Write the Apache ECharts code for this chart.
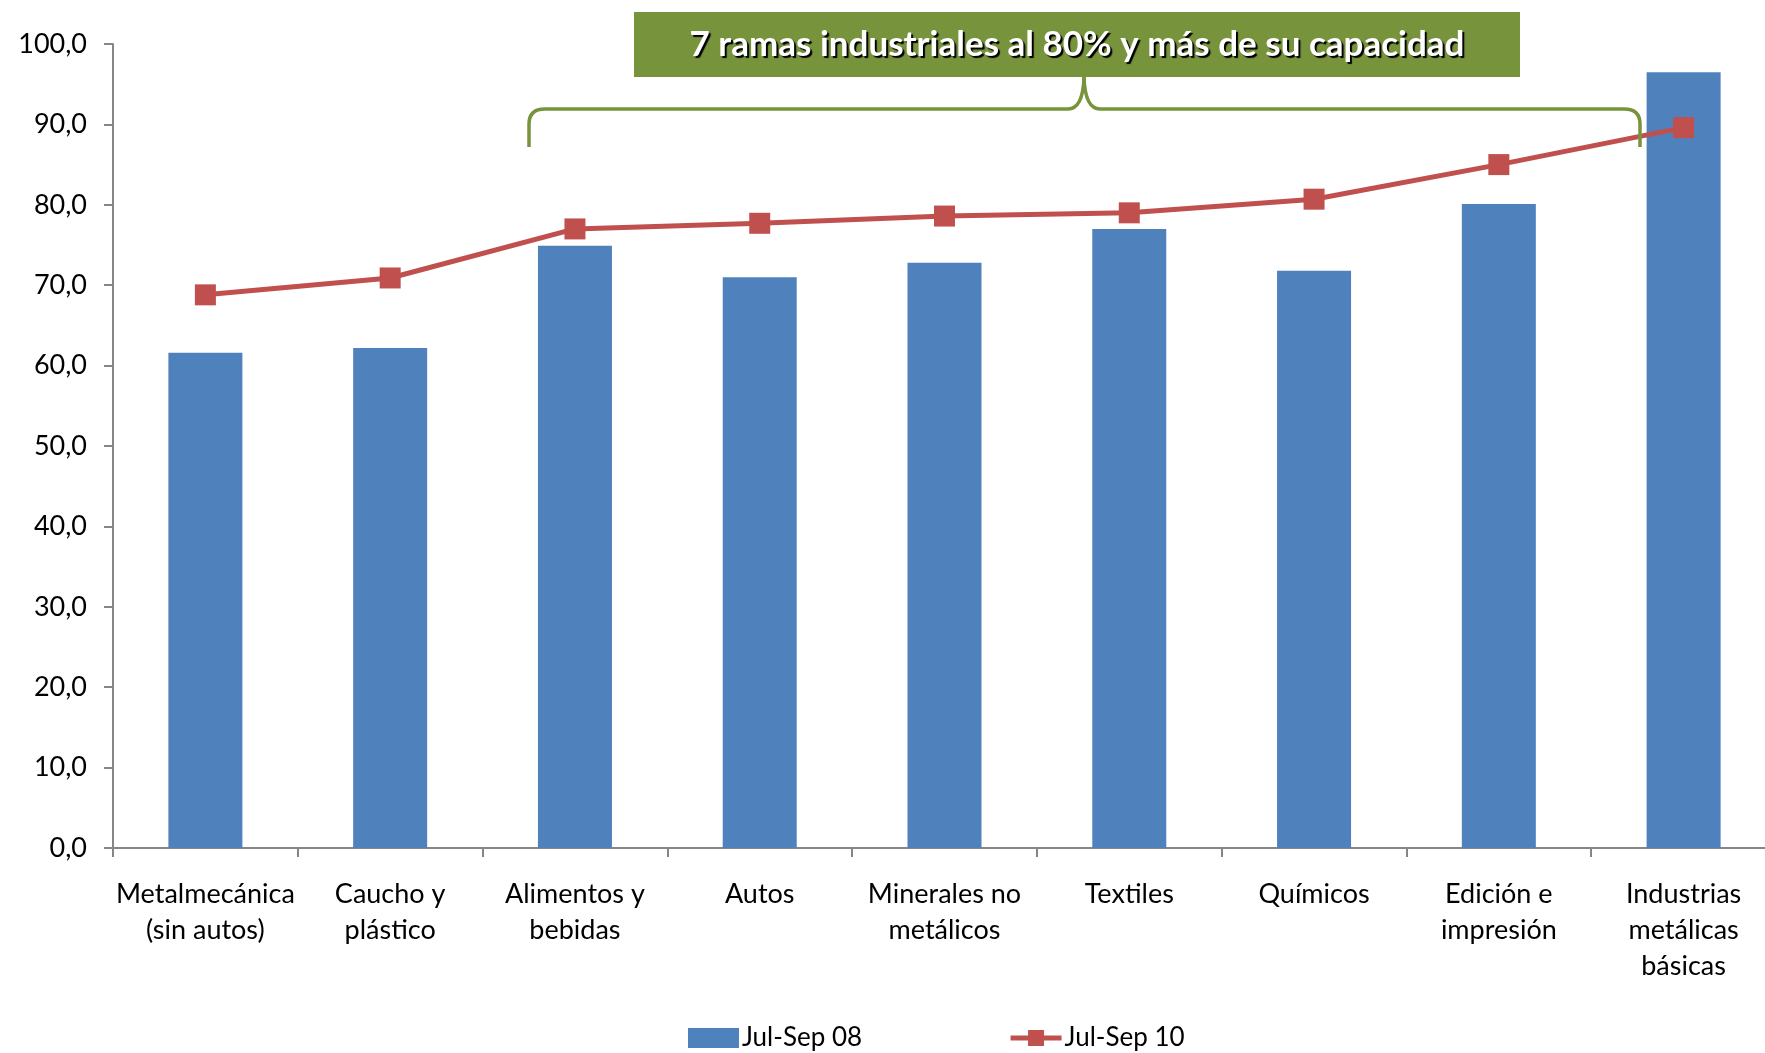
<!DOCTYPE html>
<html><head><meta charset="utf-8">
<script src="https://cdn.jsdelivr.net/npm/echarts@6/dist/echarts.min.js"></script>
<style>html,body{margin:0;padding:0;background:#fff;overflow:hidden;width:1765px;height:1053px}#c{width:1776px;height:1053px}</style>
</head><body><div id="c"></div>
<script>
const categories = ['Metalmecánica\n(sin autos)','Caucho y\nplástico','Alimentos y\nbebidas','Autos','Minerales no\nmetálicos','Textiles','Químicos','Edición e\nimpresión','Industrias\nmetálicas\nbásicas'];
const seriesNames = ['Jul-Sep 08','Jul-Sep 10'];
const julSep08 = [61.6, 62.2, 74.9, 71.0, 72.8, 77.0, 71.8, 80.1, 96.5];
const julSep10 = [68.8, 70.9, 77.0, 77.7, 78.6, 79.0, 80.7, 85.0, 89.6];
const annotationText = '7 ramas industriales al 80% y más de su capacidad';

const FONT = 'Lato';
const G = '#77933C';
const RED = '#C0504D';
const braceStyle = {stroke:G, lineWidth:3.5, fill:'none'};
const chart = echarts.init(document.getElementById('c'), null, {renderer:'canvas'});
chart.setOption({
  animation:false,
  backgroundColor:'#ffffff',
  textStyle:{fontFamily:FONT},
  grid:{left:113, top:44, right:0, bottom:205, containLabel:false},
  legend:{
    bottom:-3, left:683, itemGap:146, itemWidth:51, itemHeight:20,
    textStyle:{fontFamily:FONT, fontSize:26, color:'#000', padding:[0,0,0,-2]},
    data:[{name:seriesNames[0], icon:'rect'},
          {name:seriesNames[1], lineStyle:{width:5, color:RED}}]
  },
  xAxis:{
    type:'category', data:categories,
    axisLine:{lineStyle:{color:'#868686', width:2}},
    axisTick:{show:true, length:9, lineStyle:{color:'#868686', width:2}},
    axisLabel:{fontFamily:FONT, fontSize:27, color:'#000', lineHeight:36, margin:28, interval:0}
  },
  yAxis:{
    type:'value', min:0, max:100, interval:10,
    axisLine:{show:true, lineStyle:{color:'#868686', width:2}},
    axisTick:{show:true, length:9, lineStyle:{color:'#868686', width:2}},
    splitLine:{show:false},
    axisLabel:{fontFamily:FONT, fontSize:27, color:'#000', margin:26,
      formatter:v=>v.toFixed(1).replace('.',',')}
  },
  series:[
    {name:seriesNames[0], type:'bar', data:julSep08, barWidth:74, itemStyle:{color:'#4F81BD'}, z:2},
    {name:seriesNames[1], type:'line', data:julSep10, symbol:'rect', symbolSize:21,
     lineStyle:{color:RED, width:5}, itemStyle:{color:RED}, z:3}
  ],
  graphic:[
    {type:'rect', z:100, shape:{x:634, y:12, width:886, height:65}, style:{fill:G}},
    {type:'text', z:101, x:1077, y:45, style:{text:annotationText, fill:'#fff', font:'bold 35px '+FONT,
      align:'center', verticalAlign:'middle', textShadowColor:'#000', textShadowOffsetX:2, textShadowOffsetY:2, textShadowBlur:1}},
    {type:'line', z:100, shape:{x1:529, y1:147, x2:529, y2:124}, style:braceStyle},
    {type:'bezierCurve', z:100, shape:{x1:529, y1:124, cpx1:529, cpy1:109, x2:545, y2:109}, style:braceStyle},
    {type:'line', z:100, shape:{x1:545, y1:109, x2:1068, y2:109}, style:braceStyle},
    {type:'bezierCurve', z:100, shape:{x1:1068, y1:109, cpx1:1083, cpy1:109, x2:1084, y2:77}, style:braceStyle},
    {type:'bezierCurve', z:100, shape:{x1:1084, y1:77, cpx1:1085, cpy1:109, x2:1100, y2:109}, style:braceStyle},
    {type:'line', z:100, shape:{x1:1100, y1:109, x2:1624, y2:109}, style:braceStyle},
    {type:'bezierCurve', z:100, shape:{x1:1624, y1:109, cpx1:1640, cpy1:109, x2:1640, y2:124}, style:braceStyle},
    {type:'line', z:100, shape:{x1:1640, y1:124, x2:1640, y2:147}, style:braceStyle}
  ]
});
</script></body></html>
